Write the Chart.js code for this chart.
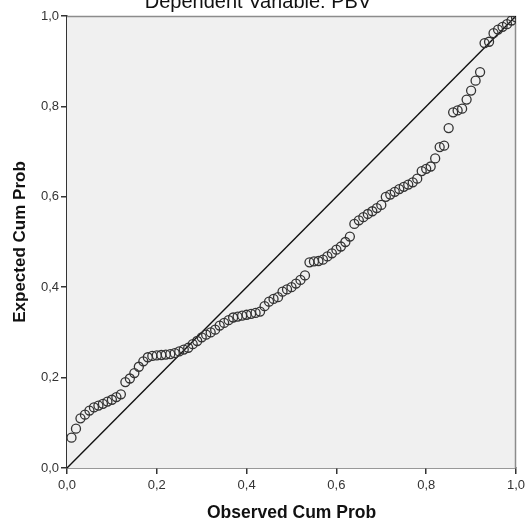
<!DOCTYPE html>
<html>
<head>
<meta charset="utf-8">
<script src="https://cdn.jsdelivr.net/npm/chart.js@4/dist/chart.umd.min.js"></script>
<style>
  html, body { margin: 0; padding: 0; background: #fff; overflow: hidden; }
  #wrap { width: 530px; height: 545px; margin-top: -20px; }
</style>
</head>
<body>
<div id="wrap"><canvas id="chart" width="530" height="545"></canvas></div>
<script>
// observed cumulative probability (x)
const observed = [
  0.01, 0.02, 0.03, 0.04, 0.05, 0.06, 0.07, 0.08, 0.09, 0.10,
  0.11, 0.12, 0.13, 0.14, 0.15, 0.16, 0.17, 0.18, 0.19, 0.20,
  0.21, 0.22, 0.23, 0.24, 0.25, 0.26, 0.27, 0.28, 0.29, 0.30,
  0.31, 0.32, 0.33, 0.34, 0.35, 0.36, 0.37, 0.38, 0.39, 0.40,
  0.41, 0.42, 0.43, 0.44, 0.45, 0.46, 0.47, 0.48, 0.49, 0.50,
  0.51, 0.52, 0.53, 0.54, 0.55, 0.56, 0.57, 0.58, 0.59, 0.60,
  0.61, 0.62, 0.63, 0.64, 0.65, 0.66, 0.67, 0.68, 0.69, 0.70,
  0.71, 0.72, 0.73, 0.74, 0.75, 0.76, 0.77, 0.78, 0.79, 0.80,
  0.81, 0.82, 0.83, 0.84, 0.85, 0.86, 0.87, 0.88, 0.89, 0.90,
  0.91, 0.92, 0.93, 0.94, 0.95, 0.96, 0.97, 0.98, 0.99, 1.00
];

// expected cumulative probability (y)
const expected = [
  0.067, 0.087, 0.110, 0.118, 0.127, 0.134, 0.138, 0.142, 0.147, 0.151,
  0.157, 0.163, 0.190, 0.198, 0.210, 0.224, 0.236, 0.245, 0.248, 0.249,
  0.250, 0.251, 0.252, 0.254, 0.258, 0.262, 0.266, 0.274, 0.281, 0.289,
  0.295, 0.300, 0.306, 0.315, 0.321, 0.327, 0.333, 0.335, 0.337, 0.339,
  0.341, 0.343, 0.346, 0.358, 0.368, 0.374, 0.378, 0.390, 0.395, 0.400,
  0.408, 0.416, 0.426, 0.455, 0.457, 0.458, 0.461, 0.468, 0.475, 0.483,
  0.490, 0.500, 0.512, 0.540, 0.548, 0.555, 0.562, 0.568, 0.575, 0.582,
  0.600, 0.605, 0.611, 0.617, 0.622, 0.627, 0.632, 0.640, 0.657, 0.662,
  0.667, 0.685, 0.710, 0.713, 0.752, 0.787, 0.791, 0.795, 0.815, 0.835,
  0.857, 0.876, 0.940, 0.943, 0.962, 0.970, 0.976, 0.982, 0.990, 0.997
];

const tickValues = [0, 0.2, 0.4, 0.6, 0.8, 1.0];
const diagonal = [0, 1];

const points = observed.map((x, i) => ({x: x, y: expected[i]}));
const refLine = diagonal.map(v => ({x: v, y: v}));

function fmt(v) {
    return v.toFixed(1).replace('.', ',');
}

// grey plot background + light top/right frame
const plotBackground = {
    id: 'plotBackground',
    beforeDatasetsDraw(chart) {
        const {ctx, chartArea: a} = chart;
        ctx.save();
        ctx.fillStyle = '#f0f0f0';
        ctx.fillRect(a.left, a.top, a.right - a.left, a.bottom - a.top);
        ctx.strokeStyle = '#8c8c8c';
        ctx.lineWidth = 1.5;
        ctx.beginPath();
        ctx.moveTo(a.left, a.top + 0.5);
        ctx.lineTo(a.right - 0.5, a.top + 0.5);
        ctx.lineTo(a.right - 0.5, a.bottom);
        ctx.stroke();
        ctx.restore();
    }
};

const fontFamily = '"Liberation Sans", Arial, sans-serif';

new Chart(document.getElementById('chart'), {
    type: 'scatter',
    data: {
        datasets: [
            {
                data: points,
                pointRadius: 4.5,
                pointHoverRadius: 4.5,
                pointBorderWidth: 1.3,
                borderColor: '#333',
                backgroundColor: 'rgba(0,0,0,0)'
            },
            {
                type: 'line',
                data: refLine,
                borderColor: '#111',
                borderWidth: 1.4,
                pointRadius: 0,
                fill: false
            }
        ]
    },
    options: {
        responsive: false,
        animation: false,
        layout: {padding: {left: 0, right: 14, top: 0, bottom: 0}},
        plugins: {
            legend: {display: false},
            tooltip: {enabled: false},
            title: {
                display: true,
                text: 'Dependent Variable: PBV',
                color: '#111',
                font: {family: fontFamily, size: 20, weight: 'normal'},
                padding: {top: 10, bottom: 2}
            }
        },
        scales: {
            x: {
                type: 'linear',
                min: 0,
                max: 1,
                afterBuildTicks: s => { s.ticks = tickValues.map(v => ({value: v})); },
                afterFit: s => { s.height = 57; },
                grid: {drawOnChartArea: false, drawTicks: true, tickLength: 6, color: '#333', lineWidth: 1.5},
                border: {color: '#333', width: 1.5},
                ticks: {
                    callback: v => fmt(v),
                    color: '#333',
                    padding: 4,
                    maxRotation: 0,
                    font: {family: fontFamily, size: 13}
                },
                title: {
                    display: true,
                    text: 'Observed Cum Prob',
                    color: '#111',
                    font: {family: fontFamily, size: 17.5, weight: 'bold'},
                    padding: {top: 0, bottom: 1}
                }
            },
            y: {
                type: 'linear',
                min: 0,
                max: 1,
                afterBuildTicks: s => { s.ticks = tickValues.map(v => ({value: v})); },
                afterFit: s => { s.width = 67; },
                grid: {drawOnChartArea: false, drawTicks: true, tickLength: 6, color: '#333', lineWidth: 1.5},
                border: {color: '#333', width: 1.5},
                ticks: {
                    callback: v => fmt(v),
                    color: '#333',
                    padding: 2,
                    font: {family: fontFamily, size: 13}
                },
                title: {
                    display: true,
                    text: 'Expected Cum Prob',
                    color: '#111',
                    font: {family: fontFamily, size: 17, weight: 'bold'},
                    padding: {top: 10, bottom: 0}
                }
            }
        }
    },
    plugins: [plotBackground]
});
</script>
</body>
</html>
